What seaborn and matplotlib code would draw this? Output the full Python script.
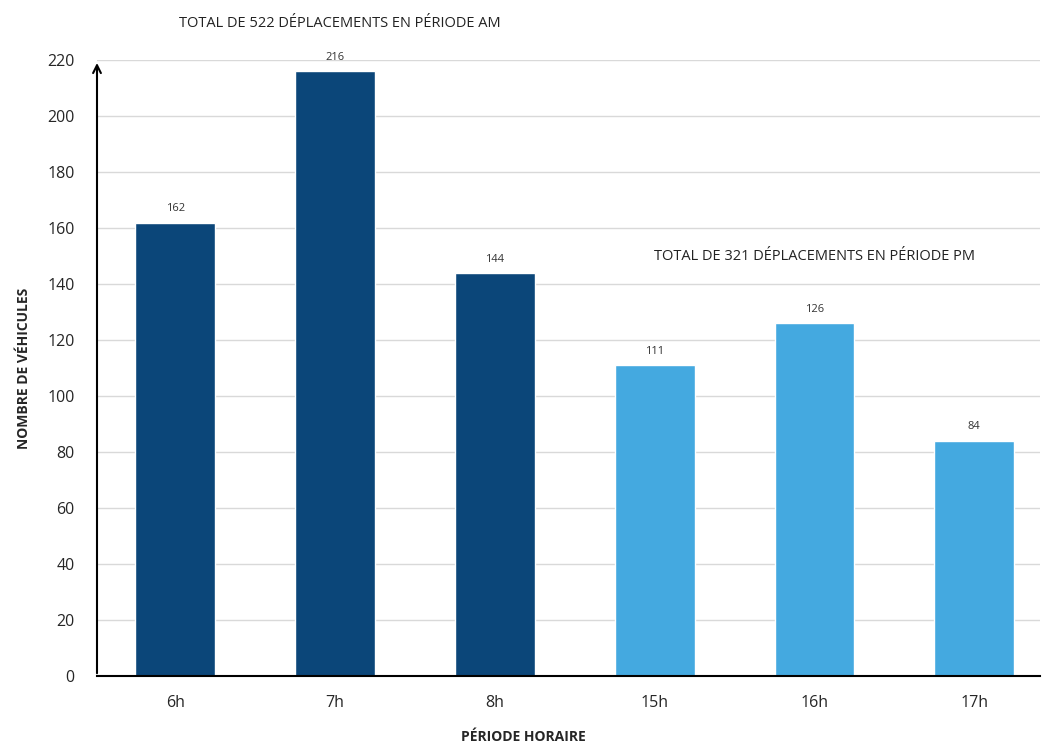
import numpy as np
import pandas as pd
import matplotlib

matplotlib.use('Agg')
import matplotlib.pyplot as plt
import seaborn as sns

hours = ["6h", "7h", "8h", "15h", "16h", "17h"]
vehicles = [162, 216, 144, 111, 126, 84]
period = ["AM", "AM", "AM", "PM", "PM", "PM"]
colors = {"AM": "#0B4679", "PM": "#44A9E0"}

df = pd.DataFrame({"hour": hours, "vehicles": vehicles, "period": period})

sns.set_style("white")
plt.rcParams['font.family'] = ['Open Sans', 'DejaVu Sans']

fig = plt.figure(figsize=(10.43, 7.45), dpi=100)
ax = fig.add_axes([0.093, 0.0926, 0.904, 0.8266])
sns.barplot(data=df, x="hour", y="vehicles", hue="period", palette=colors,
            dodge=False, width=0.5, legend=False, saturation=1, ax=ax)

ax.set_ylim(0, 220)
ax.set_xlim(-0.49, 5.41)
ax.set_yticks(np.arange(0, 221, 20))
ax.yaxis.grid(True, color="#d9d9d9", lw=1)
ax.set_axisbelow(True)
for s in ["top", "right", "left"]:
    ax.spines[s].set_visible(False)
ax.spines["bottom"].set_color("black")
ax.spines["bottom"].set_linewidth(1.5)
ax.tick_params(axis="both", length=0, labelsize=11.5, pad=14)
ax.tick_params(axis="y", pad=16)

# arrow on y axis
ax.annotate("", xy=(0, 1.0), xytext=(0, 0), xycoords="axes fraction",
            arrowprops=dict(arrowstyle="->", color="black", lw=1.5, mutation_scale=14))

for i, v in enumerate(vehicles):
    ax.text(i, v + 3, str(v), ha="center", va="bottom", fontsize=8, color="#333333")

ax.set_xlabel("")
ax.set_ylabel("NOMBRE DE VÉHICULES", fontsize=10, fontweight="bold", labelpad=12)
fig.text(0.502, 0.002, "PÉRIODE HORAIRE", fontsize=10, fontweight="bold",
         ha="center", va="bottom")

fig.text(0.172, 0.968, "TOTAL DE 522 DÉPLACEMENTS EN PÉRIODE AM", fontsize=10.5,
         ha="left", va="center", color="#222222")
ax.text(4, 150, "TOTAL DE 321 DÉPLACEMENTS EN PÉRIODE PM", fontsize=10.5,
        ha="center", va="center", color="#222222")

plt.savefig("out.png", dpi=100)
